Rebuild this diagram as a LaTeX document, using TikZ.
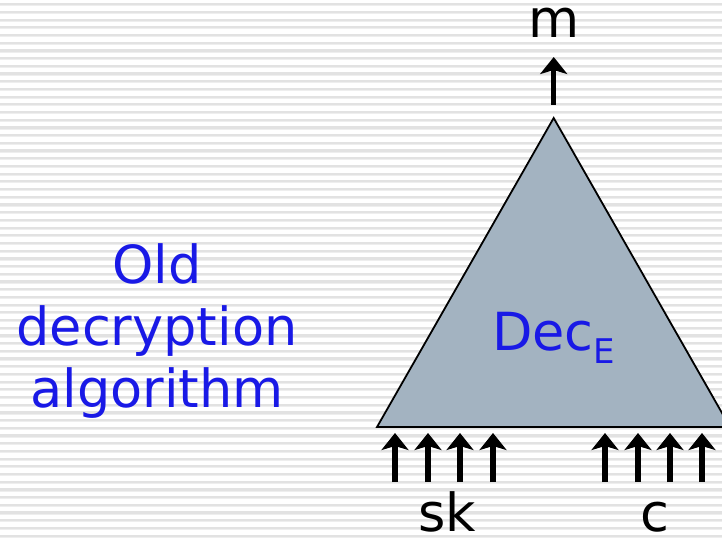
\documentclass[tikz,border=0pt]{standalone}
\usepackage{fontspec}
\setmainfont{DejaVu Sans}
\usetikzlibrary{arrows.meta}
\definecolor{tri}{RGB}{163,179,193}
\definecolor{txtblue}{RGB}{25,25,230}
\definecolor{stripeA}{RGB}{226,226,226}
\definecolor{stripeB}{RGB}{238,238,238}
\tikzset{
  bigtext/.style={font=\fontsize{52.5}{62}\selectfont, inner sep=0pt, anchor=base},
  lbl/.style={bigtext, text=txtblue},
  inarrow/.style={line width=5.5pt, -{Stealth[length=17pt,width=27pt,inset=4pt]}},
}
\begin{document}
\begin{tikzpicture}[x=1pt,y=-1pt]
\useasboundingbox (0,0) rectangle (722,540);
\clip (0,0) rectangle (722,540);
% striped background
\foreach \i in {0,...,70}{
  \fill[stripeA] (0,{3.2+7.7*\i}) rectangle (722,{5.4+7.7*\i});
  \fill[stripeB] (0,{5.4+7.7*\i}) rectangle (722,{6.4+7.7*\i});
}
% triangle
\coordinate (apex) at (553.7,118);
\coordinate (bl) at (377,427);
\coordinate (br) at (730,427);
\draw[fill=tri, line width=1.8pt, line join=miter] (apex) -- (bl) -- (br) -- cycle;
\node[lbl, anchor=base west] (dec) at (492,350) {Dec\raisebox{-13pt}{\fontsize{34}{40}\selectfont E}};
% output arrow
\coordinate (mt) at (553.7,105);
\coordinate (mh) at (553.7,57);
\draw[inarrow] (mt) -- (mh);
\node[bigtext] (m) at (553.7,38) {m};
% input arrows
\foreach \x [count=\k] in {395,428,460,493,605,638,670,702}{
  \coordinate (t\k) at (\x,482);
  \coordinate (h\k) at (\x,433);
  \draw[inarrow] (t\k) -- (h\k);
}
\node[bigtext] (sk) at (447,531) {sk};
\node[bigtext] (c) at (655,531) {c};
% left label
\node[lbl] (l1) at (157,283) {Old};
\node[lbl] (l2) at (157,345) {decryption};
\node[lbl] (l3) at (157,407) {algorithm};
\end{tikzpicture}
\end{document}
